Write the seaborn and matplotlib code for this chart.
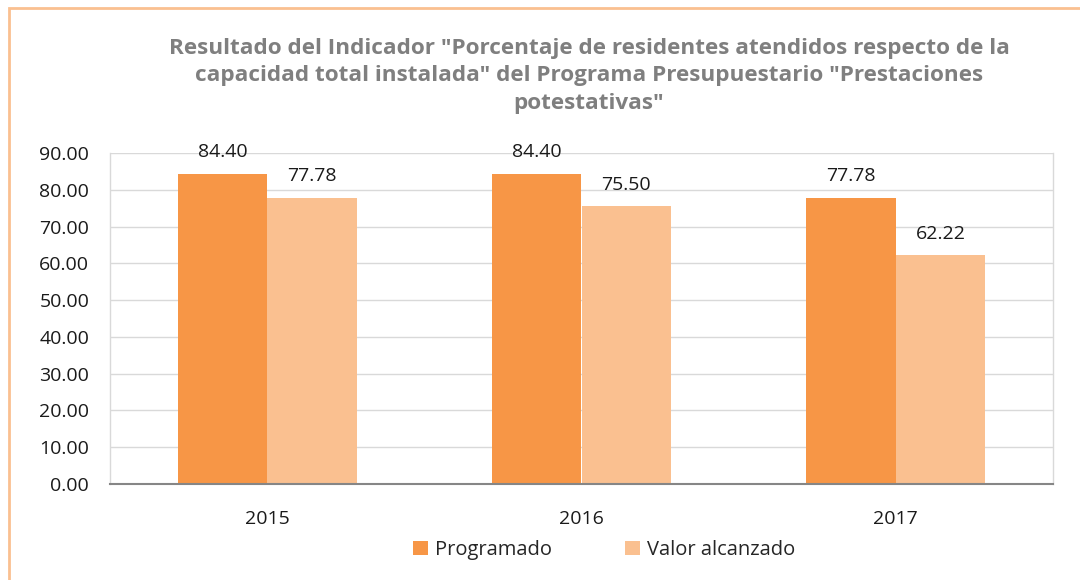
import matplotlib
matplotlib.use("Agg")
import matplotlib.pyplot as plt
import seaborn as sns
import pandas as pd
from matplotlib.patches import Rectangle, Patch

years = ["2015", "2016", "2017"]
programado = [84.40, 84.40, 77.78]
valor_alcanzado = [77.78, 75.50, 62.22]
series_names = ["Programado", "Valor alcanzado"]
colors = ["#F79646", "#FAC090"]
title = ('Resultado del Indicador "Porcentaje de residentes atendidos respecto de la\n'
         'capacidad total instalada" del Programa Presupuestario "Prestaciones\n'
         'potestativas"')

df = pd.DataFrame({
    "Año": years * 2,
    "Serie": [series_names[0]] * 3 + [series_names[1]] * 3,
    "Valor": programado + valor_alcanzado,
})

sns.set_theme(style="white")
plt.rcParams["font.family"] = ["Open Sans", "DejaVu Sans"]

fig = plt.figure(figsize=(10.8, 5.8), dpi=100)
ax = fig.add_axes([110/1080, 1 - 484/580, 943/1080, 331/580])

sns.barplot(data=df, x="Año", y="Valor", hue="Serie", palette=colors,
            width=0.57, gap=0, saturation=1, ax=ax, legend=False, linewidth=0,
            edgecolor="none")

ax.set_ylim(0, 90)
ax.set_yticks(range(0, 91, 10))
ax.set_yticklabels([f"{v:.2f}" for v in range(0, 91, 10)])
ax.yaxis.grid(True, color="#D9D9D9", linewidth=1)
ax.set_axisbelow(True)
ax.set_xlabel("")
ax.set_ylabel("")
for s in ["left", "right"]:
    ax.spines[s].set_visible(True)
    ax.spines[s].set_color("#D9D9D9")
    ax.spines[s].set_linewidth(1)
ax.spines["top"].set_visible(False)
ax.spines["bottom"].set_color("#868686")
ax.spines["bottom"].set_linewidth(1.5)
ax.tick_params(axis="both", length=0, labelsize=14, colors="#1a1a1a")
ax.tick_params(axis="y", pad=15)
ax.tick_params(axis="x", pad=19)

for cont in ax.containers:
    ax.bar_label(cont, fmt="%.2f", padding=9, fontsize=14, color="#1a1a1a")

fig.text(589/1080, 1 - 76/580, title, ha="center", va="center",
         fontsize=16.2, fontweight="bold", color="#7F7F7F", linespacing=1.4)

handles = [Patch(facecolor=c, edgecolor="none") for c in colors]
fig.legend(handles, series_names, loc="center", bbox_to_anchor=(604/1080, 1 - 550/580),
           ncol=2, frameon=False, fontsize=14.5, handlelength=0.75, handleheight=0.75,
           columnspacing=3.6, handletextpad=0.35)

fig.patches.append(Rectangle((9/1080, -0.1), 1.2, 1 - 8/580 + 0.1,
                             transform=fig.transFigure, fill=False,
                             edgecolor="#FAC090", linewidth=2))

fig.savefig("out.png", dpi=100)
